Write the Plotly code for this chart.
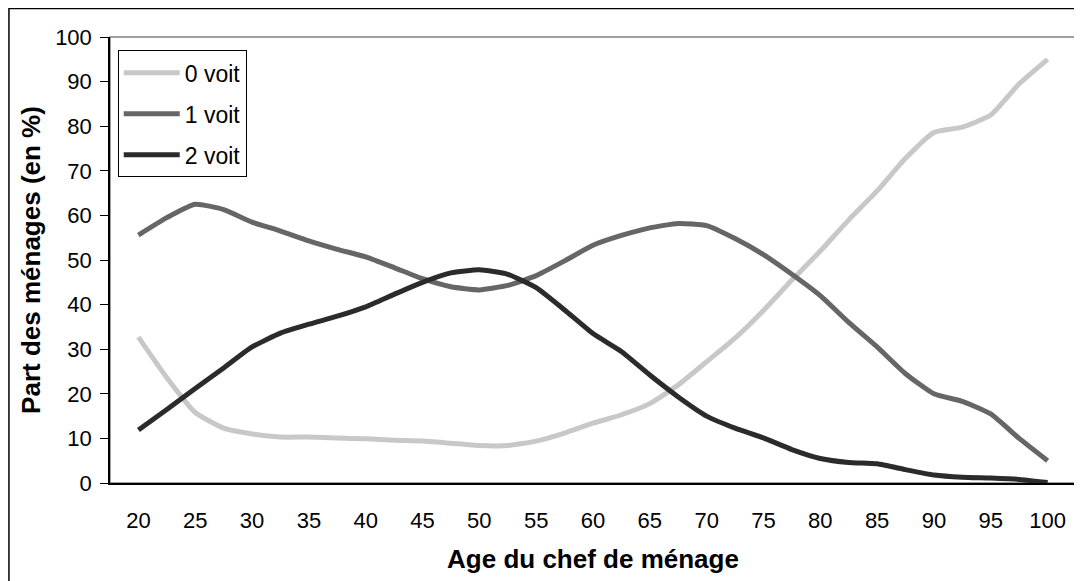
import plotly.graph_objects as go

# === Data ===
ages = [20, 22.5, 25, 27.5, 30, 32.5, 35, 37.5, 40, 42.5, 45, 47.5, 50, 52.5, 55, 57.5,
        60, 62.5, 65, 67.5, 70, 72.5, 75, 77.5, 80, 82.5, 85, 87.5, 90, 92.5, 95, 97.5, 100]

voit_0 = [32.7, 23.6, 15.8, 12.3, 11.0, 10.3, 10.3, 10.1, 9.9, 9.6, 9.4, 8.9, 8.4, 8.4, 9.4, 11.2,
          13.4, 15.3, 17.8, 22.0, 27.2, 32.5, 38.7, 45.5, 52.0, 59.0, 65.5, 72.8, 78.6, 79.8, 82.5, 89.5, 95.0]

voit_1 = [55.6, 59.5, 62.5, 61.3, 58.5, 56.5, 54.3, 52.4, 50.7, 48.3, 45.8, 44.0, 43.3, 44.3, 46.5, 49.8,
          53.3, 55.5, 57.2, 58.2, 57.7, 54.8, 51.2, 46.8, 42.0, 36.0, 30.5, 24.5, 20.0, 18.3, 15.5, 10.0, 5.0]

voit_2 = [11.9, 16.5, 21.2, 25.8, 30.5, 33.6, 35.6, 37.4, 39.5, 42.3, 45.0, 47.1, 47.8, 46.8, 43.8, 38.8,
          33.5, 29.5, 24.2, 19.3, 15.0, 12.3, 10.1, 7.5, 5.5, 4.6, 4.3, 3.0, 1.8, 1.3, 1.1, 0.8, 0.1]

series = [
    ("0 voit", voit_0, "#c8c8c8"),
    ("1 voit", voit_1, "#666666"),
    ("2 voit", voit_2, "#2b2b2b"),
]

FONT = "Liberation Sans, Arial, sans-serif"

fig = go.Figure()
for name, vals, col in series:
    fig.add_trace(go.Scatter(
        x=ages, y=vals, name=name, mode="lines", legendgroup=name,
        line=dict(color=col, width=5, shape="spline", smoothing=0.5),
    ))

# === Layout ===
# page body has an 8px margin, so the figure is drawn 8px smaller
fig.update_layout(
    width=1074, height=573,
    margin=dict(l=102, r=6, t=29, b=98, autoexpand=False),
    paper_bgcolor="white", plot_bgcolor="white",
    font=dict(family=FONT, size=22, color="black"),
    legend=dict(
        x=0.008, y=0.97, xanchor="left", yanchor="top",
        bgcolor="white", bordercolor="black", borderwidth=1,
        font=dict(size=23), itemwidth=56, tracegroupgap=8,
    ),
    shapes=[
        # plot area frame (grey top/right)
        dict(type="rect", xref="paper", yref="paper", x0=0, y0=0, x1=1, y1=1,
             line=dict(color="#808080", width=1.5), layer="below"),
        # outer chart frame
        dict(type="rect", xref="paper", yref="paper", x0=-0.1046, y0=-0.25, x1=1.02, y1=1.064,
             line=dict(color="black", width=1.5), layer="below"),
    ],
)

fig.update_xaxes(
    range=[17.5, 102.5], tickmode="linear", tick0=20, dtick=5,
    showgrid=False, zeroline=False, automargin=False,
    showline=True, linecolor="black", linewidth=1.5,
    ticks="", ticklabelstandoff=17,
    tickfont=dict(size=22),
    title=dict(text="<b>Age du chef de ménage</b>", font=dict(size=26), standoff=18),
)

fig.update_yaxes(
    range=[0, 100], tickmode="linear", tick0=0, dtick=10,
    showgrid=False, zeroline=False, automargin=False,
    showline=True, linecolor="black", linewidth=1.5,
    ticks="outside", ticklen=8, tickcolor="black", tickwidth=1,
    ticklabelstandoff=4,
    tickfont=dict(size=22),
    title=dict(text="<b>Part des ménages (en %)</b>", font=dict(size=26), standoff=7),
)

# inner half of the crossing tick marks
fig.update_layout(yaxis2=dict(
    overlaying="y", anchor="x", side="left", range=[0, 100],
    tickmode="linear", tick0=0, dtick=10, ticks="inside", ticklen=8,
    tickcolor="black", tickwidth=1, showticklabels=False, automargin=False,
    showgrid=False, zeroline=False, showline=False,
))

fig.write_html("out.html")
